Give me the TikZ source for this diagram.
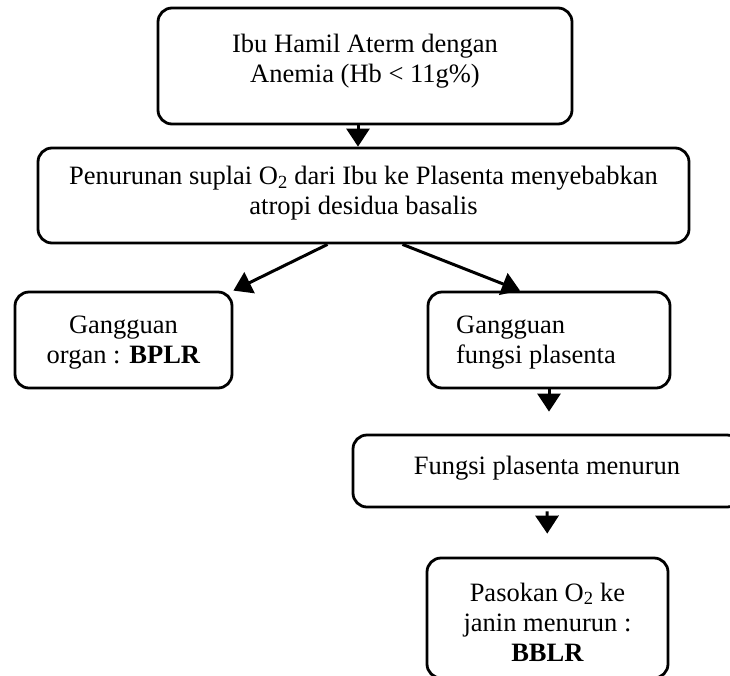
\documentclass[tikz,border=0pt]{standalone}
\usepackage{fontspec}
\setmainfont{Liberation Serif}
\usetikzlibrary{arrows.meta}
\begin{document}
\begin{tikzpicture}[x=1pt,y=-1pt,
  box/.style={draw, line width=2.8pt, rounded corners=14pt, inner sep=0pt},
  txt/.style={align=center, font=\fontsize{26.5}{30}\selectfont},
  arr/.style={line width=3pt, -{Triangle[length=18pt,width=23pt]}}]
\useasboundingbox (0,0) rectangle (730,675);
\clip (0,0) rectangle (730,675);

\node[box, minimum width=414pt, minimum height=116pt,
  label={[txt,yshift=5pt]center:{Ibu Hamil Aterm dengan\\Anemia (Hb < 11g\%)}}] (b1) at (365,66) {};

\node[box, minimum width=651pt, minimum height=95pt,
  label={[txt,yshift=2pt]center:{Penurunan suplai O\textsubscript{2} dari Ibu ke Plasenta menyebabkan\\atropi desidua basalis}}] (b2) at (363.5,195.5) {};

\node[box, minimum width=217pt, minimum height=96pt,
  label={[txt,yshift=-3pt]center:{Gangguan\\organ : \textbf{BPLR}}}] (lbox) at (123.5,340) {};

\node[box, minimum width=242pt, minimum height=96pt,
  label={[txt,align=left,anchor=west,xshift=26pt,yshift=-3pt]west:{Gangguan\\fungsi plasenta}}] (rbox) at (549,340) {};

\node[box, minimum width=388pt, minimum height=72pt,
  label={[txt,yshift=3pt]center:{Fungsi plasenta menurun}}] (fun) at (547,471) {};

\node[box, minimum width=241pt, minimum height=120pt,
  label={[txt,yshift=-4pt]center:{Pasokan O\textsubscript{2} ke\\janin menurun :\\\textbf{BBLR}}}] (bot) at (547.5,618) {};

\draw[arr] ([xshift=-7pt]b1.south) -- ([xshift=-7pt]b1.south |- b2.north);
\draw[arr] ([xshift=-36pt]b2.south) -- (lbox.north east);
\draw[arr] ([xshift=39pt]b2.south) -- ([xshift=-29pt]rbox.north);
\draw[arr, shorten >=22pt] (rbox.south) -- (rbox.south |- fun.north);
\draw[arr, shorten >=23pt, shorten <=3pt] (fun.south) -- (bot.north);
\end{tikzpicture}
\end{document}
